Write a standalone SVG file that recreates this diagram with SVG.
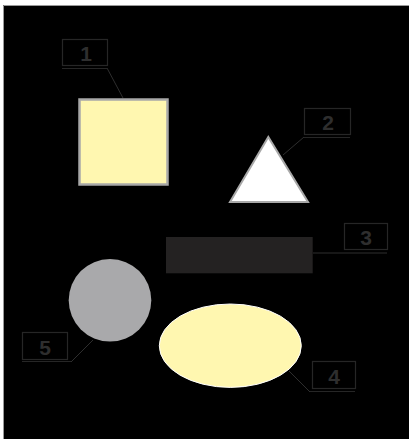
<svg xmlns="http://www.w3.org/2000/svg" width="409" height="439" viewBox="0 0 409 439">
<style>
.lbl{fill:none;stroke:#262626;stroke-width:1.2}
.ul{stroke:#262626;stroke-width:1.2;fill:none}
.num{font-family:"Liberation Sans",Arial,sans-serif;font-weight:bold;font-size:21px;fill:#2e2e2e;text-anchor:middle}
.lead{stroke:#2e2e2e;stroke-width:1;fill:none}
</style>
<rect x="0" y="0" width="409" height="439" fill="#fff"/>
<rect x="3" y="5" width="406" height="434" fill="#000"/>
<path d="M3.5,439 V5.5 H409" fill="none" stroke="#999" stroke-width="1"/>
<g id="connectors">
<path class="lead" d="M107,68 L123,98"/>
<path class="lead" d="M304,137 L283,155"/>
<path class="lead" d="M313,253 L387,253"/>
<path class="lead" d="M289,371 L310,392"/>
<path class="lead" d="M71,362 L93,340"/>
</g>
<g id="node1">
<rect x="79.5" y="99.5" width="88" height="85" fill="#fff7b0" stroke="#a8a8a8" stroke-width="2.5"/>
<rect class="lbl" x="62.5" y="39.5" width="45" height="26"/>
<path class="ul" d="M62,68.5 H107"/>
<text class="num" x="86" y="61">1</text>
</g>
<g id="node2">
<polygon points="268.3,137 230,202 308,202" fill="#fff" stroke="#a8a8a8" stroke-width="2"/>
<rect class="lbl" x="304.5" y="108.5" width="46" height="26"/>
<path class="ul" d="M304,137.5 H350"/>
<text class="num" x="328" y="130">2</text>
</g>
<g id="node3">
<rect x="166" y="237" width="146.7" height="36.3" fill="#242222"/>
<rect class="lbl" x="344.5" y="223.5" width="43" height="26"/>
<text class="num" x="366" y="245">3</text>
</g>
<g id="node4">
<ellipse cx="230.3" cy="345.7" rx="71" ry="41.7" fill="#fff7b0" stroke="#fff" stroke-width="1"/>
<rect class="lbl" x="312.5" y="361.5" width="43" height="27"/>
<path class="ul" d="M310,391.5 H355"/>
<text class="num" x="334" y="383.5">4</text>
</g>
<g id="node5">
<circle cx="110" cy="300.3" r="41.3" fill="#a9a9ab"/>
<rect class="lbl" x="22.5" y="332.5" width="45" height="27"/>
<path class="ul" d="M22,361.5 H71"/>
<text class="num" x="45" y="354.5">5</text>
</g>
</svg>
